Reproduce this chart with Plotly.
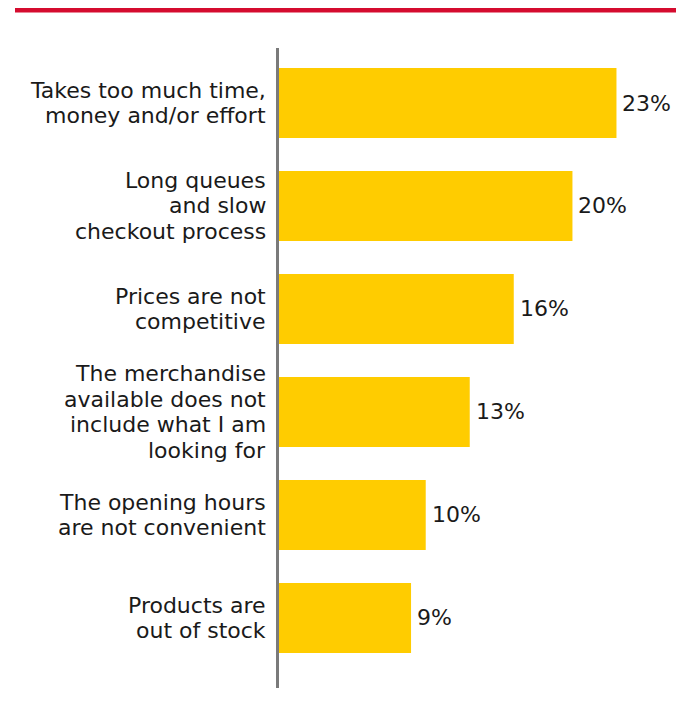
import plotly.graph_objects as go

categories = [
    "Takes too much time,<br>money and/or effort",
    "Long queues<br>and slow<br>checkout process",
    "Prices are not<br>competitive",
    "The merchandise<br>available does not<br>include what I am<br>looking for",
    "The opening hours<br>are not convenient",
    "Products are<br>out of stock",
]
values = [23, 20, 16, 13, 10, 9]
value_labels = ["23%", "20%", "16%", "13%", "10%", "9%"]

FONT = "DejaVu Sans"
TEXT_COLOR = "#1a1a1a"
FS = 22
LINE_H = 25.8

positions = list(range(len(categories)))

fig = go.Figure()
fig.add_trace(go.Bar(
    x=values,
    y=positions,
    orientation="h",
    width=0.68,
    marker=dict(color="#FFCC00", line=dict(width=0)),
    hoverinfo="skip",
))

annotations = []
for pos, label in zip(positions, categories):
    lines = label.split("<br>")
    n = len(lines)
    for i, line in enumerate(lines):
        annotations.append(dict(
            x=0, xref="paper", y=pos, yref="y",
            text=line, showarrow=False,
            xanchor="right", yanchor="middle",
            xshift=-12, yshift=((n - 1) / 2 - i) * LINE_H,
            borderpad=0,
            font=dict(family=FONT, size=FS, color=TEXT_COLOR),
        ))
for pos, v, t in zip(positions, values, value_labels):
    annotations.append(dict(
        x=v, xref="x", y=pos, yref="y",
        text=t, showarrow=False,
        xanchor="left", yanchor="middle",
        xshift=4,
        font=dict(family=FONT, size=FS, color=TEXT_COLOR),
    ))

fig.update_layout(
    width=682, height=714,
    margin=dict(l=271, r=10, t=40, b=34),
    paper_bgcolor="white", plot_bgcolor="white",
    showlegend=False,
    annotations=annotations,
    xaxis=dict(range=[0, 27.33], visible=False, fixedrange=True),
    yaxis=dict(range=[5.68, -0.534], showticklabels=False, showgrid=False,
               zeroline=False, showline=True, linecolor="#7a7a7a", linewidth=3,
               ticks="", fixedrange=True),
    shapes=[dict(type="line", xref="paper", yref="paper",
                 x0=-264 / 401, x1=397 / 401,
                 y0=678 / 640, y1=678 / 640,
                 line=dict(color="#D50C2F", width=5))],
)

fig.write_html("out.html")
